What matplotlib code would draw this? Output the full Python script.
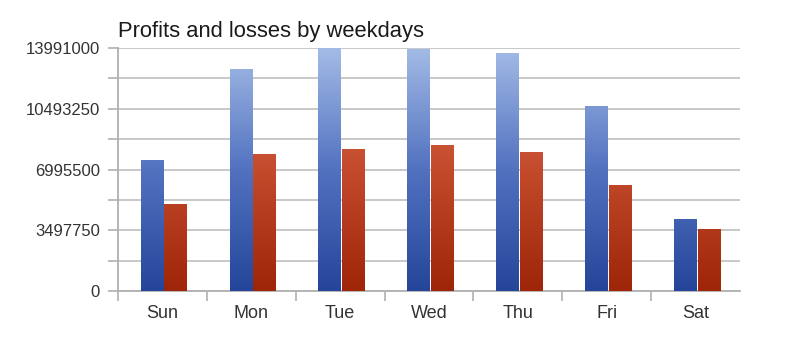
import numpy as np
import matplotlib
matplotlib.use("Agg")
import matplotlib.pyplot as plt
from matplotlib.colors import LinearSegmentedColormap

days = ["Sun", "Mon", "Tue", "Wed", "Thu", "Fri", "Sat"]
profits = [7540000, 12780000, 13991000, 13880000, 13650000, 10600000, 4130000]
losses = [4990000, 7880000, 8120000, 8350000, 8000000, 6050000, 3560000]
ymax = 13991000
major_ticks = [0, 3497750, 6995500, 10493250, 13991000]
title = "Profits and losses by weekdays"

plt.rcParams['font.family'] = ['Liberation Sans', 'DejaVu Sans']

fig = plt.figure(figsize=(8, 3.56), dpi=100)
ax = fig.add_axes([118/800, 1-291/356, (740-118)/800, (291-48)/356])

x = np.arange(len(days))
w = 0.252
b1 = ax.bar(x - 0.118, profits, width=w, color='none', zorder=3)
b2 = ax.bar(x + 0.148, losses, width=w, color='none', zorder=3)

cm_blue = LinearSegmentedColormap.from_list('b', ['#25459a', '#5272c0', '#a3bbe6'])
cm_red = LinearSegmentedColormap.from_list('r', ['#9e2508', '#c44a2c', '#dc735a'])

for bars, cm in ((b1, cm_blue), (b2, cm_red)):
    for p in bars:
        x0 = p.get_x(); x1 = x0 + p.get_width(); h = p.get_height()
        grad = np.linspace(h / ymax, 0, 200).reshape(-1, 1)
        ax.imshow(grad, extent=[x0, x1, 0, h], aspect='auto', cmap=cm,
                  vmin=0, vmax=1, zorder=3, interpolation='bilinear')

ax.set_xlim(-0.5, 6.5)
ax.set_ylim(0, ymax)

ax.set_yticks(major_ticks)
ax.set_yticklabels([str(v) for v in major_ticks])
minor_y = [(a + b) / 2 for a, b in zip(major_ticks[:-1], major_ticks[1:])]
ax.set_yticks(minor_y, minor=True)
ax.grid(True, axis='y', which='both', color='#c4c4c4', linewidth=1.3, zorder=0)

ax.set_xticks(np.arange(-0.5, 6.0, 1.0))
ax.set_xticklabels([])
ax.set_xticks(x, minor=True)
ax.set_xticklabels(days, minor=True)

ax.tick_params(axis='x', which='major', length=7, width=1.2, color='#b0b0b0', direction='out')
ax.tick_params(axis='x', which='minor', length=0, pad=10, labelsize=13, labelcolor='#333333')
ax.tick_params(axis='y', which='both', length=7, width=1.2, color='#b0b0b0', direction='out',
               pad=6, labelsize=12, labelcolor='#333333')

for s in ('top', 'right'):
    ax.spines[s].set_visible(False)
for s in ('left', 'bottom'):
    ax.spines[s].set_color('#b0b0b0')
    ax.spines[s].set_linewidth(1.3)
ax.set_axisbelow(True)

fig.text(118/800, 1-37/356, title, fontsize=15.8, color='#1a1a1a', ha='left', va='baseline')

fig.savefig("out.png", dpi=100)
